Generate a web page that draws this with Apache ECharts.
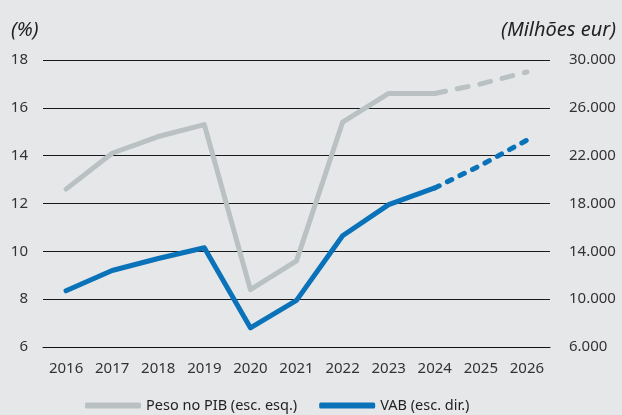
<!DOCTYPE html>
<html>
<head>
<meta charset="utf-8">
<script src="https://cdn.jsdelivr.net/npm/echarts@6/dist/echarts.min.js"></script>
<style>
  html, body { margin: 0; padding: 0; background: #e6e7e9; }
  #chart { width: 622px; height: 415px; }
</style>
</head>
<body>
<div id="chart"></div>
<script>
// Years on the category axis
const years = ['2016', '2017', '2018', '2019', '2020', '2021', '2022', '2023', '2024', '2025', '2026'];

// Weight in GDP (%), left scale; 2025-2026 are projections
const pesoPib = [12.6, 14.1, 14.8, 15.3, 8.4, 9.6, 15.4, 16.6, 16.6, 17.0, 17.5];

// Gross value added (million EUR), right scale; 2025-2026 are projections
const vab = [10700, 12400, 13400, 14300, 7600, 9900, 15300, 17900, 19300, 21200, 23300];

// Index of the last observed year; the lines turn dashed after it
const lastActual = 8;

const leftTicks = { min: 6, max: 18, interval: 2 };
const rightTicks = { min: 6000, max: 30000, interval: 4000 };

const grey = '#b9c1c3';
const blue = '#0a72b9';
const font = 'Noto Sans';

function actual(arr) { return arr.map((v, i) => (i <= lastActual ? v : null)); }
function projected(arr) { return arr.map((v, i) => (i >= lastActual ? v : null)); }

const chart = echarts.init(document.getElementById('chart'), null, { renderer: 'canvas' });

chart.setOption({
  backgroundColor: '#e6e7e9',
  animation: false,
  textStyle: { fontFamily: font },
  title: [
    { text: '(%)', left: 6, top: 15,
      textStyle: { fontFamily: font, fontStyle: 'italic', fontWeight: 'normal', fontSize: 20, color: '#222' } },
    { text: '(Milhões eur)', right: 1, top: 15,
      textStyle: { fontFamily: font, fontStyle: 'italic', fontWeight: 'normal', fontSize: 20, color: '#222' } }
  ],
  grid: { left: 43, right: 72, top: 60, bottom: 68, containLabel: false },
  legend: {
    left: 80, top: 393,
    itemWidth: 56, itemHeight: 6, itemGap: 22,
    icon: 'roundRect',
    data: [
      { name: 'Peso no PIB (esc. esq.)', itemStyle: { color: grey } },
      { name: 'VAB (esc. dir.)', itemStyle: { color: blue } }
    ],
    textStyle: { fontFamily: font, fontSize: 14.5, color: '#222' }
  },
  xAxis: {
    type: 'category',
    data: years,
    boundaryGap: true,
    axisLine: { lineStyle: { color: '#111', width: 1 } },
    axisTick: { inside: true, length: 5, lineStyle: { color: '#111' } },
    axisLabel: { fontFamily: font, fontSize: 15, color: '#333', margin: 14 }
  },
  yAxis: [
    {
      type: 'value', position: 'left',
      min: leftTicks.min, max: leftTicks.max, interval: leftTicks.interval,
      axisLine: { show: false }, axisTick: { show: false },
      splitLine: { lineStyle: { color: '#1a1a1a', width: 1 } },
      axisLabel: { fontFamily: font, fontSize: 15, color: '#333', margin: 15 }
    },
    {
      type: 'value', position: 'right',
      min: rightTicks.min, max: rightTicks.max, interval: rightTicks.interval,
      axisLine: { show: false }, axisTick: { show: false },
      splitLine: { show: false },
      axisLabel: {
        fontFamily: font, fontSize: 15, color: '#333', margin: 19,
        formatter: v => v.toLocaleString('de-DE')
      }
    }
  ],
  series: [
    {
      name: 'Peso no PIB (esc. esq.)', type: 'line', yAxisIndex: 0,
      data: actual(pesoPib), symbol: 'none', color: grey,
      lineStyle: { color: grey, width: 5, cap: 'round', join: 'round' }
    },
    {
      name: 'Peso no PIB proj', type: 'line', yAxisIndex: 0,
      data: projected(pesoPib), symbol: 'none', color: grey,
      lineStyle: { color: grey, width: 5, type: [11, 12], cap: 'round' }
    },
    {
      name: 'VAB (esc. dir.)', type: 'line', yAxisIndex: 1,
      data: actual(vab), symbol: 'none', color: blue,
      lineStyle: { color: blue, width: 5, cap: 'round', join: 'round' }
    },
    {
      name: 'VAB proj', type: 'line', yAxisIndex: 1,
      data: projected(vab), symbol: 'none', color: blue,
      lineStyle: { color: blue, width: 5, type: [5, 9], cap: 'round' }
    }
  ]
});
</script>
</body>
</html>
